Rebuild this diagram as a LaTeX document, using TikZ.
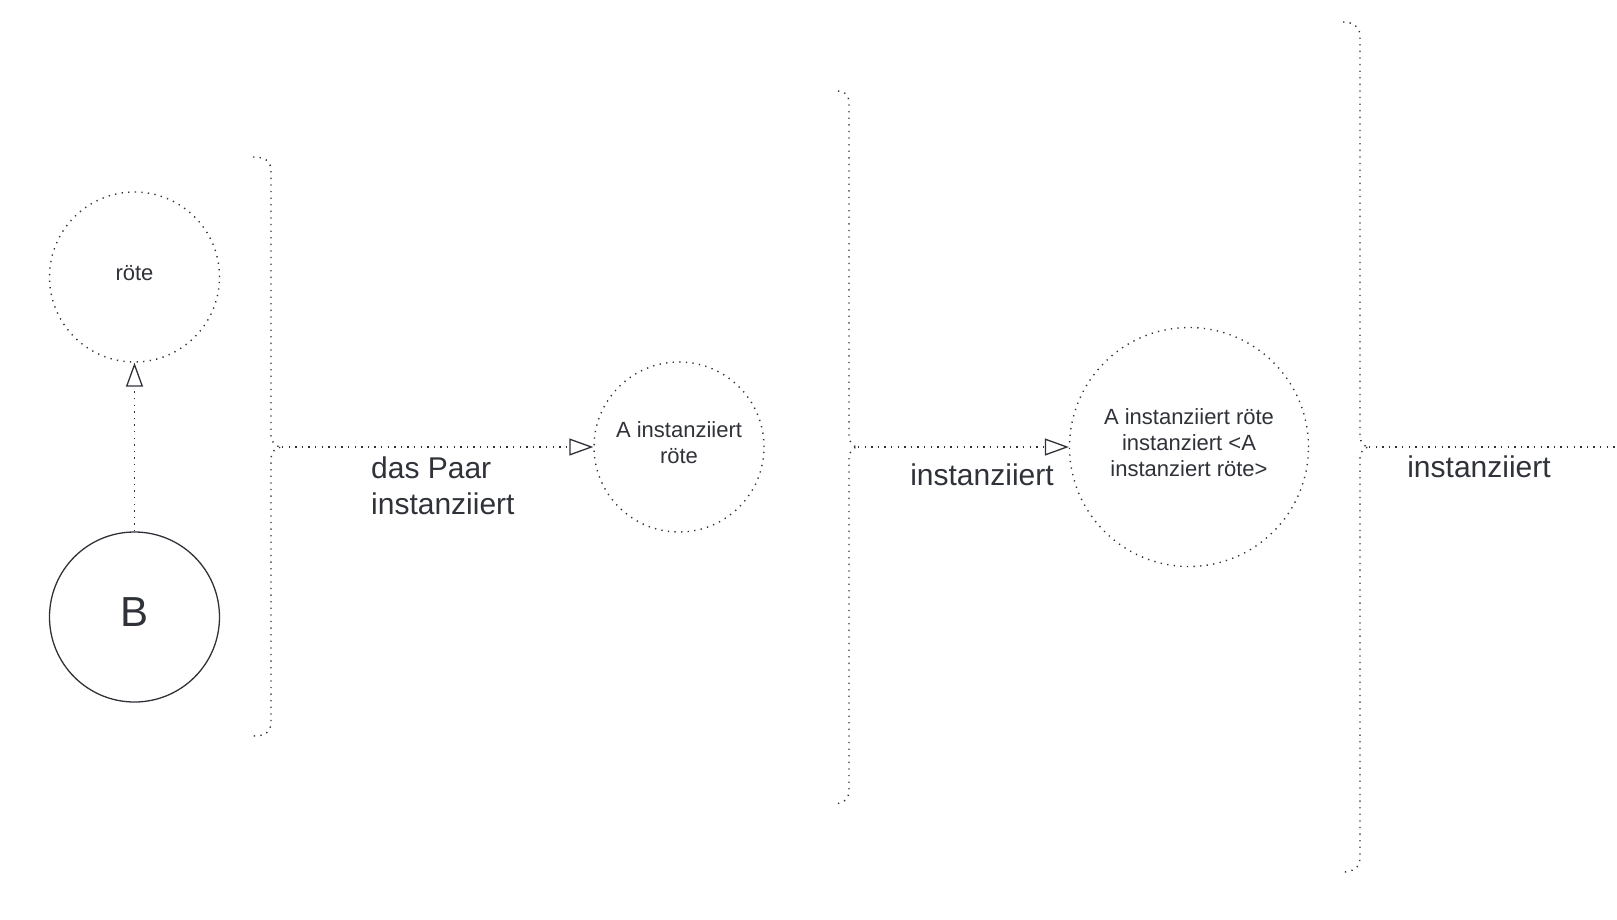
\documentclass[tikz,border=0pt]{standalone}
\usepackage{fontspec}
\setmainfont{Liberation Sans}
\usetikzlibrary{arrows.meta}
\definecolor{ink}{HTML}{2F3238}
\tikzset{
  dotline/.style={draw=ink, line width=1.4pt, dash pattern=on 1.3pt off 5.3pt},
  dotcircle/.style={circle, dotline, inner sep=0pt, text=ink, align=center, font=\fontsize{22}{27}\selectfont, text depth=8pt},
  solidcircle/.style={circle, draw=ink, line width=1.3pt, inner sep=0pt, text=ink, font=\fontsize{42}{48}\selectfont, text depth=10pt},
  openhead/.style={-{Triangle[open, length=24pt, width=17pt, line width=1.3pt, sep=0pt]}},
  biglabel/.style={text=ink, font=\fontsize{30}{36}\selectfont, inner sep=0pt, align=left},
  bracepath/.style={dotline}
}
\begin{document}
\begin{tikzpicture}[x=1pt, y=-1pt]
\useasboundingbox (0,0) rectangle (1617,919);
% circles
\node[dotcircle, minimum size=170pt] (rote) at (134.5,277) {röte};
\node[solidcircle, minimum size=170pt] (B) at (134.5,617) {B};
\node[dotcircle, minimum size=170pt] (A) at (679,447) {A instanziiert\\[-1pt]röte};
\node[dotcircle, minimum size=239pt] (C) at (1189,447) {A instanziiert röte\\[-1pt]instanziert <A\\[-1pt]instanziert röte>};
% braces
\coordinate (t1) at (282,447);
\coordinate (t2) at (858,447);
\coordinate (t3) at (1369,447);
\coordinate (e3) at (1617,447);
\draw[bracepath] (253,157) .. controls (266,157) and (271,161) .. (271,172) -- (271,436) .. controls (271,442) and (276,447) .. (t1)
  .. controls (276,447) and (271,452) .. (271,458) -- (271,721) .. controls (271,732) and (266,736) .. (253,736);
\draw[bracepath] (838,91) .. controls (845,91) and (849,95) .. (849,104) -- (849,436) .. controls (849,442) and (853,447) .. (t2)
  .. controls (853,447) and (849,452) .. (849,458) -- (849,791) .. controls (849,800) and (842,804) .. (833,804);
\draw[bracepath] (1343,22) .. controls (1352,22) and (1360,26) .. (1360,36) -- (1360,436) .. controls (1360,442) and (1364,447) .. (t3)
  .. controls (1364,447) and (1360,452) .. (1360,458) -- (1360,858) .. controls (1360,868) and (1352,872) .. (1343,872);
% connectors
\draw[dotline, openhead] (B) -- (rote);
\draw[dotline, openhead] (t1) -- (A);
\draw[dotline, openhead] (t2) -- (C);
\draw[dotline] (t3) -- (e3);
% labels
\node[biglabel, anchor=west] (l1) at (371,486) {das Paar\\instanziiert};
\node[biglabel] (l2) at (982,475) {instanziiert};
\node[biglabel] (l3) at (1479,467) {instanziiert};
\end{tikzpicture}
\end{document}
